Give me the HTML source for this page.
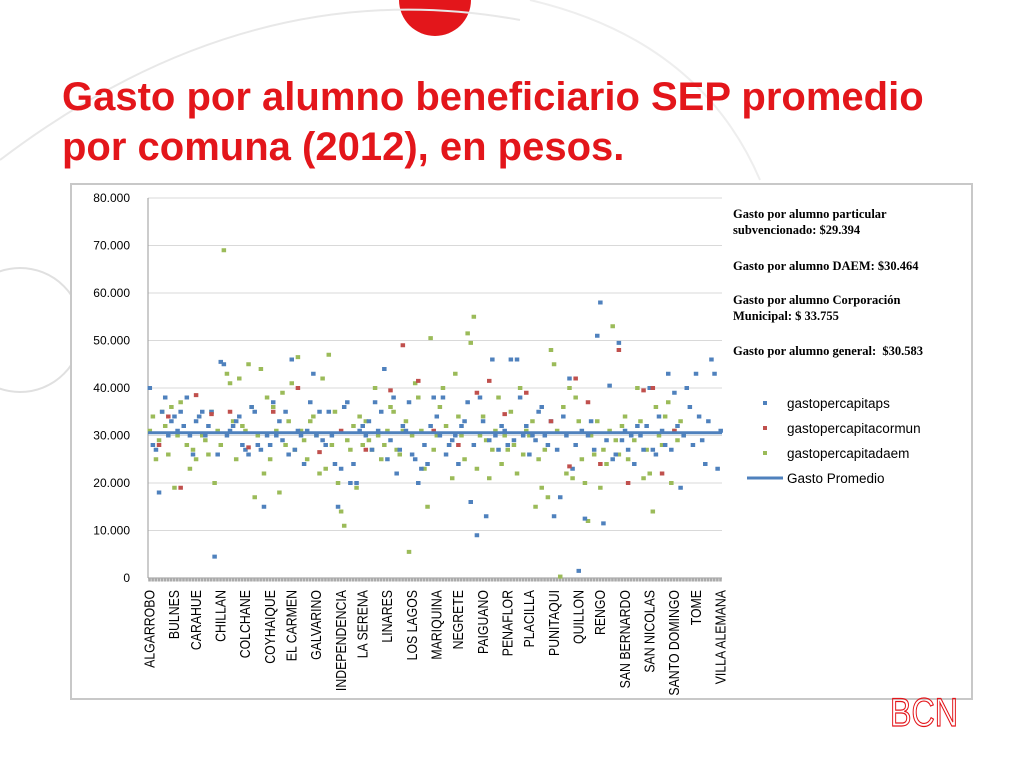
<!DOCTYPE html>
<html><head><meta charset="utf-8"><style>
body{margin:0;width:1024px;height:768px;overflow:hidden;background:#fff;font-family:"Liberation Sans",sans-serif;position:relative}
.t{position:absolute;left:62px;top:72px;color:#e3161b;font-weight:bold;font-size:40px;line-height:50px;letter-spacing:0px}
.frame{position:absolute;left:70px;top:183px;width:899px;height:513px;border:2px solid #c8c8c8;background:#fff}
.note{position:absolute;left:733px;font-family:"Liberation Serif",serif;font-weight:bold;font-size:12.5px;line-height:16px;color:#000}
</style></head><body>
<svg width="1024" height="768" style="position:absolute;left:0;top:0">
<circle cx="435" cy="0" r="36" fill="#e3161b"/>
<path d="M0,160 Q250,-30 520,20" fill="none" stroke="#e8e8e8" stroke-width="2"/>
<circle cx="20" cy="330" r="62" fill="none" stroke="#e0e0e0" stroke-width="2"/>
<path d="M530,0 Q700,40 760,180" fill="none" stroke="#eeeeee" stroke-width="2"/>
</svg>
<div class="t">Gasto por alumno beneficiario SEP promedio<br>por comuna (2012), en pesos.</div>
<div class="frame"></div>
<svg id="chart" width="1024" height="768" style="position:absolute;left:0;top:0"></svg>
<div class="note" style="top:206px">Gasto por alumno particular<br>subvencionado: $29.394</div>
<div class="note" style="top:258px">Gasto por alumno DAEM: $30.464</div>
<div class="note" style="top:292px">Gasto por alumno Corporación<br>Municipal: $ 33.755</div>
<div class="note" style="top:343px">Gasto por alumno general:&nbsp; $30.583</div>
<svg width="80" height="40" style="position:absolute;left:888px;top:690px">
<text x="2" y="36" font-family="Liberation Sans" font-size="40" fill="none" stroke="#e3161b" stroke-width="1.2" textLength="68" lengthAdjust="spacingAndGlyphs">BCN</text></svg>
<script>
const blue=[40,28,27,18,35,38,30,33,34,31,35,32,38,30,26,33,34,35,30,32,35,4.5,26,45.5,45,30,31,32,33,34,28,27,26,36,35,28,27,15,30,28,37,30,33,29,35,26,46,27,31,30,24,31,37,43,30,35,29,28,35,30,24,15,23,36,37,20,24,20,31,32,30,33,27,37,31,35,44,25,29,38,22,27,32,31,37,26,25,20,23,28,24,32,38,34,30,38,26,28,29,30,24,32,33,37,16,28,9,38,33,13,29,46,30,27,32,31,28,46,29,46,38,30,32,26,30,29,35,36,30,28,33,13,27,17,34,30,42,23,28,1.5,31,12.5,30,33,27,51,58,11.5,29,40.5,25,26,49.5,29,31,27,30,24,32,30,27,32,40,27,26,34,31,28,43,27,39,32,19,30,40,36,28,43,34,29,24,33,46,43,23,31];
const green=[31,34,25,29,35,32,26,36,19,30,37,32,28,23,27,25,34,30,29,26,35,20,31,28,69,43,41,33,25,42,32,31,45,36,17,30,44,22,38,25,36,31,18,39,28,33,41,27,46.5,31,29,25,33,34,30,22,42,23,47,28,35,20,14,11,29,27,32,19,34,28,33,29,27,40,30,25,28,31,36,35,27,26,31,33,5.5,30,41,38,31,23,15,50.5,27,30,36,40,32,28,21,43,34,30,25,51.5,49.5,55,23,30,34,29,21,27,31,38,24,30,27,35,28,22,40,26,31,30,33,15,25,19,27,17,48,45,31,0.3,36,22,40,21,38,33,25,20,12,30,26,33,19,27,24,31,53,29,26,32,34,25,30,29,40,33,21,27,22,14,36,30,28,34,37,20,31,29,33,30];
const redIdx=[3,6,10,15,20,26,32,40,48,55,62,70,78,82,87,92,100,106,110,115,122,130,136,138,142,146,152,155,160,163,166,170];
const redVal=[28,34,19,38.5,34.5,35,27.5,35,40,26.5,31,27,39.5,49,41.5,31,28,39,41.5,34.5,39,33,23.5,42,37,24,48,20,39.5,40,22,31];
const avg=30.583;
const yTicks=[0,10,20,30,40,50,60,70,80];
const yTickLabels=["0","10.000","20.000","30.000","40.000","50.000","60.000","70.000","80.000"];
const labels=["ALGARROBO","BULNES","CARAHUE","CHILLAN","COLCHANE","COYHAIQUE","EL CARMEN","GALVARINO","INDEPENDENCIA","LA SERENA","LINARES","LOS LAGOS","MARIQUINA","NEGRETE","PAIGUANO","PENAFLOR","PLACILLA","PUNITAQUI","QUILLON","RENGO","SAN BERNARDO","SAN NICOLAS","SANTO DOMINGO","TOME","VILLA ALEMANA"];
const N=Math.max(blue.length,green.length);
const X0=148,X1=722,Y0=578,Y1=198;
const sx=i=>X0+(i+0.5)*(X1-X0)/N;
const sy=v=>Y0-(v/80)*(Y0-Y1);
const svg=document.getElementById('chart');
const ns='http://www.w3.org/2000/svg';
function mk(t,a){const e=document.createElementNS(ns,t);for(const k in a)e.setAttribute(k,a[k]);svg.appendChild(e);return e;}
yTicks.forEach((v,i)=>{
 const g=mk('line',{x1:X0,x2:X1,y1:sy(v),y2:sy(v),stroke:v?'#d9d9d9':'#999','stroke-width':1});
 
 
 const t=mk('text',{x:X0-18,y:sy(v)+4,'text-anchor':'end','font-size':12,fill:'#000','font-family':'Liberation Sans'});
 t.textContent=yTickLabels[i];
 
 
});
const ax=mk('line',{x1:X0,x2:X0,y1:Y1,y2:Y0,stroke:'#999'});


for(let i=0;i<N;i++){const r=mk('rect',{x:sx(i)-1.3,y:Y0,width:2.6,height:3.5,fill:'#aaa'});
 
 }
function pt(i,v,c,name){if(v==null)return;const r=mk('rect',{x:sx(i)-2,y:sy(v)-2,width:4.5,height:4,fill:c});
 
 }
green.forEach((v,i)=>pt(i,v,'#9bbb59','point-daem'));
blue.forEach((v,i)=>pt(i,v,'#4f81bd','point-ps'));
redIdx.forEach((ix,k)=>pt(ix,redVal[k],'#c0504d','point-cormun'));
const al=mk('line',{x1:X0,x2:X1,y1:sy(avg),y2:sy(avg),stroke:'#4f81bd','stroke-width':3});


labels.forEach((s,k)=>{const i=Math.round(k*(N-1)/(labels.length-1));const x=sx(i)+5,y=Y0+12;
 const t=mk('text',{x:0,y:0,transform:`translate(${x},${y}) rotate(-90) scale(0.82,1)`,'text-anchor':'end','font-size':15,fill:'#000','font-family':'Liberation Sans'});
 t.textContent=s;
 
 });
const leg=[['gastopercapitaps','#4f81bd',0],['gastopercapitacormun','#c0504d',0],['gastopercapitadaem','#9bbb59',0],['Gasto Promedio','#4f81bd',1]];
leg.forEach((l,k)=>{const y=403+k*25;
 if(l[2]){const ln=mk('line',{x1:747,x2:783,y1:y,y2:y,stroke:l[1],'stroke-width':3});}
 else{const r=mk('rect',{x:763,y:y-2,width:4,height:4,fill:l[1]});}
 const t=mk('text',{x:787,y:y+5,'font-size':13.5,fill:'#000','font-family':'Liberation Sans'});t.textContent=l[0];
 
 });
</script>
</body></html>
